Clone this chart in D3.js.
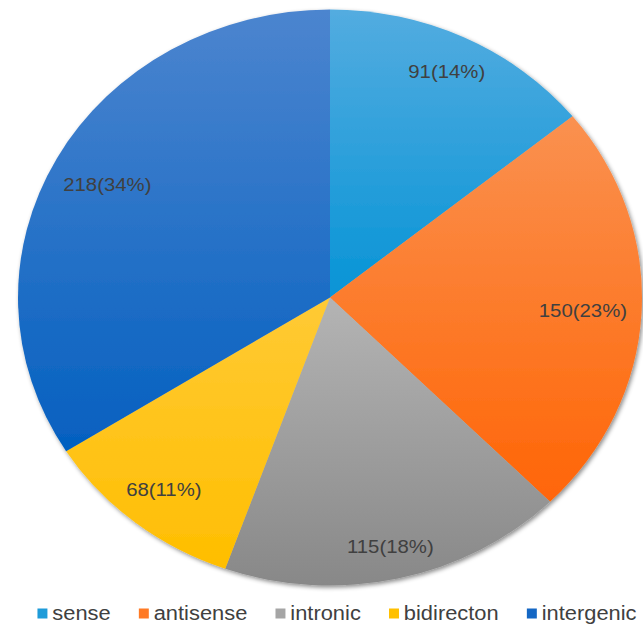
<!DOCTYPE html>
<html>
<head>
<meta charset="utf-8">
<script src="https://cdn.jsdelivr.net/npm/d3@7"></script>
<style>
  html, body { margin: 0; padding: 0; background: #ffffff; }
  svg { display: block; }
  text { font-family: "Liberation Sans", Arial, Helvetica, sans-serif; }
</style>
</head>
<body>
<svg id="chart" width="643" height="625"></svg>
<script>
// Transcript classes and their counts
const categories = ["sense", "antisense", "intronic", "bidirecton", "intergenic"];
const counts = [91, 150, 115, 68, 218];

// Two-stop vertical gradient per slice (light top, saturated bottom)
const gradientTop = ["#53ACE0", "#FA9150", "#B4B4B4", "#FFCA35", "#4C85CF"];
const gradientBottom = ["#0794D6", "#FF6506", "#888888", "#FFBE00", "#0460C0"];
// Legend swatch colours
const swatch = ["#1E9BD9", "#FF7A25", "#A5A5A5", "#FFC000", "#1467C4"];

const cx = 330, cy = 297.5;
const R = 288;           // vertical radius
const stretchX = 1.0833; // horizontal stretch of the whole figure

const svg = d3.select("#chart");
const defs = svg.append("defs");

// soft outer shadow on the pie
const shadow = defs.append("filter").attr("id", "pieShadow")
  .attr("x", "-10%").attr("y", "-10%").attr("width", "120%").attr("height", "120%");
shadow.append("feDropShadow")
  .attr("dx", 1.5).attr("dy", 2).attr("stdDeviation", 2)
  .attr("flood-color", "#000").attr("flood-opacity", 0.45);

categories.forEach((c, i) => {
  const g = defs.append("linearGradient").attr("id", "grad" + i)
    .attr("x1", 0).attr("y1", 0).attr("x2", 0).attr("y2", 1);
  g.append("stop").attr("offset", "0%").attr("stop-color", gradientTop[i]);
  g.append("stop").attr("offset", "100%").attr("stop-color", gradientBottom[i]);
});

const total = d3.sum(counts);
const data = categories.map((c, i) => ({ name: c, value: counts[i], idx: i }));

const pie = d3.pie().sort(null).value(d => d.value);
const arcs = pie(data);
const arc = d3.arc().innerRadius(0).outerRadius(R);

const root = svg.append("g")
  .attr("transform", `translate(${cx},${cy}) scale(${stretchX},1)`);

root.append("g").attr("filter", "url(#pieShadow)")
  .selectAll("path").data(arcs).join("path")
  .attr("d", arc)
  .attr("fill", d => `url(#grad${d.data.idx})`);

// Value labels placed just inside the outer edge
const labelFont = 18.8;
const k = 0.955;
const labels = root.append("g").selectAll("text").data(arcs).join("text")
  .attr("text-anchor", "middle")
  .attr("dy", "0.35em")
  .attr("font-size", labelFont)
  .attr("fill", "#404040")
  .text(d => `${d.data.value}(${Math.round(d.data.value / total * 100)}%)`);

labels.each(function (d) {
  const a = (d.startAngle + d.endAngle) / 2;
  const dx = Math.sin(a), dy = -Math.cos(a);
  const hw = this.getComputedTextLength() / 2;
  const hh = labelFont * 0.48;
  const b = hw * Math.abs(dx) + hh * Math.abs(dy);
  const c = hw * hw + hh * hh - (k * R) * (k * R);
  const t = -b + Math.sqrt(b * b - c);
  d3.select(this).attr("x", t * dx).attr("y", t * dy);
});

// Legend along the bottom
const legendFont = 20.2;
const sq = 9.2, sqGap = 4.5, itemGap = 26;
const legend = svg.append("g")
  .attr("transform", `translate(0,620) scale(${stretchX},1)`);
const items = legend.selectAll("g").data(data).join("g");
items.append("rect")
  .attr("y", -11.5).attr("width", sq).attr("height", 10)
  .attr("fill", d => swatch[d.idx]);
items.append("text")
  .attr("x", sq + sqGap)
  .attr("font-size", legendFont)
  .attr("fill", "#404040")
  .text(d => d.name);

const widths = [];
items.each(function () {
  widths.push(sq + sqGap + d3.select(this).select("text").node().getComputedTextLength());
});
const totalW = d3.sum(widths) + itemGap * (widths.length - 1);
const startX = (337 / stretchX) - totalW / 2;
items.attr("transform", (d, i) => {
  const x = startX + d3.sum(widths.slice(0, i)) + itemGap * i;
  return `translate(${x},0)`;
});
</script>
</body>
</html>
